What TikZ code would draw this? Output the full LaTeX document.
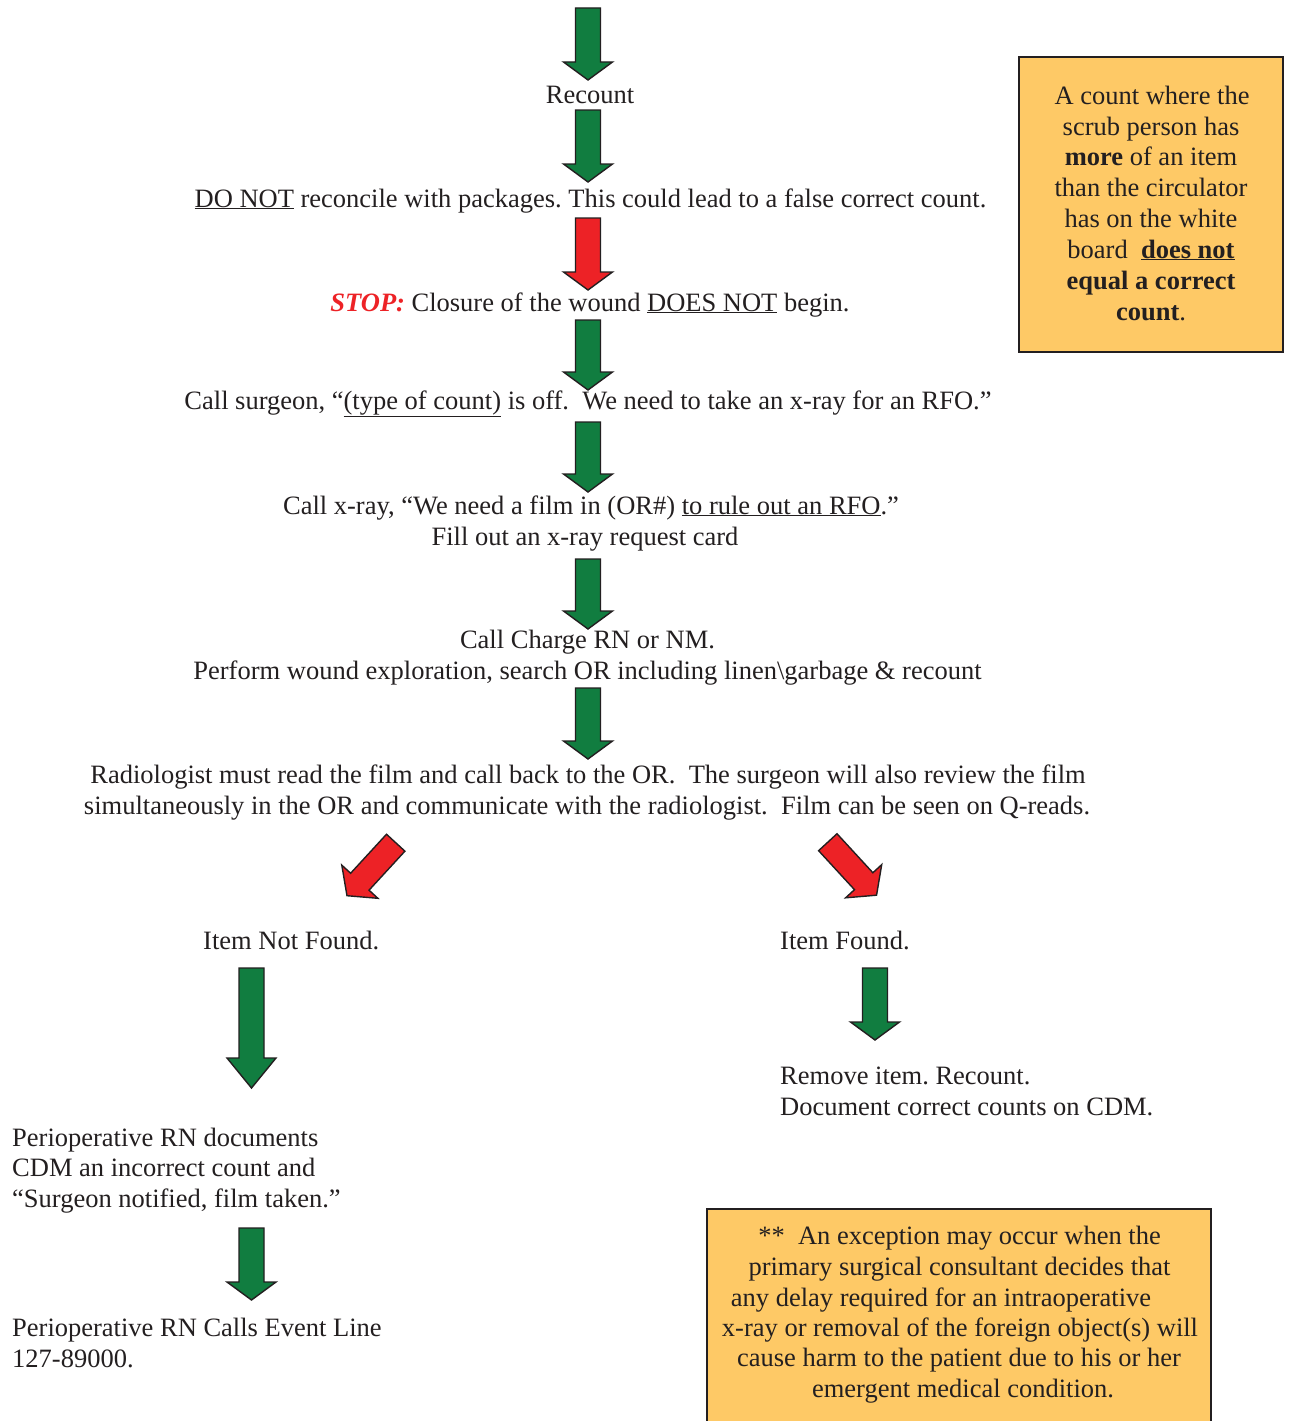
\documentclass[tikz,border=0pt]{standalone}
\usepackage{fontspec}
\setmainfont{Liberation Serif}
\definecolor{ink}{RGB}{35,31,32}
\definecolor{agreen}{RGB}{17,125,64}
\definecolor{ared}{RGB}{237,34,38}
\definecolor{boxfill}{RGB}{254,201,102}
\newcommand\blockarrow[7]{% name, fill, x, y (tail centre), rotate, length, head length
  \begin{scope}[shift={(#3,#4)}, rotate=#5]
    \draw[arrowline, fill=#2] (-12.5,0) -- (12.5,0) -- (12.5,#6-#7) -- (24.5,#6-#7)
      -- (0,#6) -- (-24.5,#6-#7) -- (-12.5,#6-#7) -- cycle;
    \coordinate (#1) at (0,#6);
  \end{scope}}
\frenchspacing
\begin{document}
\begin{tikzpicture}[x=1pt,y=-1pt,
  font=\fontsize{26.5}{31}\selectfont,
  txt/.style={anchor=base, text=ink, inner sep=0pt},
  ltxt/.style={anchor=base west, text=ink, inner sep=0pt},
  arrowline/.style={draw=ink, line width=1.4, line join=miter},
  notebox/.style={draw=ink, line width=1.5, fill=boxfill, inner sep=0pt}]
\clip (0,0) rectangle (1290,1421);
\fill[white] (0,0) rectangle (1290,1421);

% main column
\blockarrow{a1}{agreen}{588}{8}{0}{72}{18}
\node[txt] (recount) at (590,103) {Recount};
\blockarrow{a2}{agreen}{588}{110}{0}{72}{18}
\node[txt] (donot) at (590.5,207) {\underline{DO NOT} reconcile with packages. This could lead to a false correct count.};
\blockarrow{a3}{ared}{588}{218}{0}{72}{18}
\node[txt] (stop) at (590,311) {\textcolor{ared}{\textbf{\textit{STOP:}}} Closure of the wound \underline{DOES NOT} begin.};
\blockarrow{a4}{agreen}{588}{320}{0}{70}{18}
\node[txt] (surgeon) at (588,409) {Call surgeon, “\underline{(type of count)} is off.\ \ We need to take an x-ray for an RFO.”};
\blockarrow{a5}{agreen}{588}{422}{0}{70}{18}
\node[txt] (xray1) at (591,514) {Call x-ray, “We need a film in (OR\#) \underline{to rule out an RFO}.”};
\node[txt] (xray2) at (585,545) {Fill out an x-ray request card};
\blockarrow{a6}{agreen}{588}{559}{0}{70}{18}
\node[txt] (charge1) at (587.5,648) {Call Charge RN or NM.};
\node[txt] (charge2) at (587.5,679) {Perform wound exploration, search OR including linen\textbackslash garbage \& recount};
\blockarrow{a7}{agreen}{588}{688}{0}{71}{18}
\node[txt] (radio1) at (588,783) {Radiologist must read the film and call back to the OR.\ \ The surgeon will also review the film};
\node[txt] (radio2) at (587,814) {simultaneously in the OR and communicate with the radiologist.\ \ Film can be seen on Q-reads.};

% branches
\blockarrow{a8}{ared}{395.7}{842.7}{-42.6}{72}{19}
\blockarrow{a9}{ared}{827.8}{842.2}{42.6}{72}{19}
\node[ltxt] (notfound) at (203,949) {Item Not Found.};
\node[ltxt] (found) at (780,949) {Item Found.};

\blockarrow{a10}{agreen}{251.5}{968}{0}{120}{30}
\node[ltxt] (doc1) at (12,1146) {Perioperative RN documents};
\node[ltxt] (doc2) at (12,1176) {CDM an incorrect count and};
\node[ltxt] (doc3) at (12,1207) {“Surgeon notified, film taken.”};
\blockarrow{a12}{agreen}{251.5}{1228}{0}{72}{18}
\node[ltxt] (event1) at (12,1336) {Perioperative RN Calls Event Line};
\node[ltxt] (event2) at (12,1367) {127-89000.};

\blockarrow{a11}{agreen}{875}{968}{0}{72}{18}
\node[ltxt] (remove1) at (780,1084) {Remove item. Recount.};
\node[ltxt] (remove2) at (780,1115) {Document correct counts on CDM.};

% note 1
\node[notebox, minimum width=264, minimum height=295] (note1) at (1151,204.5) {};
\node[txt] (n1a) at (1152,104) {A count where the};
\node[txt] (n1b) at (1151,135) {scrub person has};
\node[txt] (n1c) at (1151,165) {\textbf{more} of an item};
\node[txt] (n1d) at (1151,196) {than the circulator};
\node[txt] (n1e) at (1151,227) {has on the white};
\node[txt] (n1f) at (1151,258) {board\ \ \textbf{\underline{does not}}};
\node[txt] (n1g) at (1151,289) {\textbf{equal a correct}};
\node[txt] (n1h) at (1151,320) {\textbf{count}.};

% note 2
\node[notebox, minimum width=504, minimum height=240] (note2) at (959,1329) {};
\node[txt] (n2a) at (959.5,1244) {**\ \ An exception may occur when the};
\node[txt] (n2b) at (959.5,1275) {primary surgical consultant decides that};
\node[txt] (n2c) at (941,1306) {any delay required for an intraoperative};
\node[txt] (n2d) at (960,1336) {x-ray or removal of the foreign object(s) will};
\node[txt] (n2e) at (959,1366) {cause harm to the patient due to his or her};
\node[txt] (n2f) at (963,1397) {emergent medical condition.};
\end{tikzpicture}
\end{document}
